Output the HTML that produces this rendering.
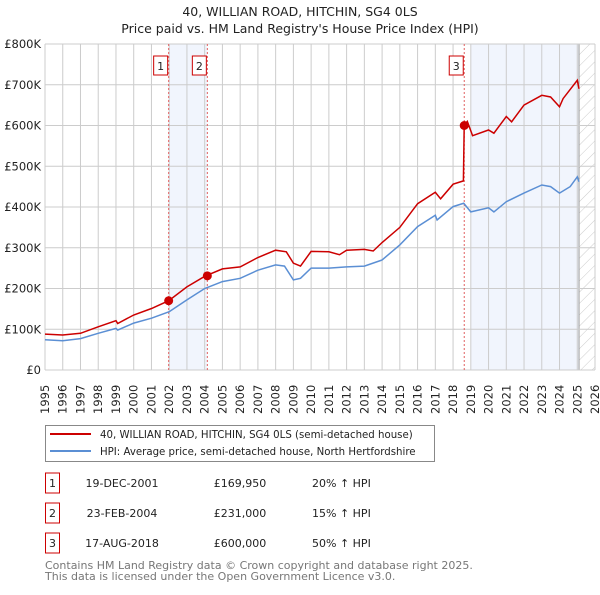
<!DOCTYPE html>
<html><head><meta charset="utf-8"><style>
body{margin:0;background:#fff;font-family:"Liberation Sans","DejaVu Sans",sans-serif;}
svg text{font-family:"DejaVu Sans","Liberation Sans",sans-serif;}
</style></head><body>
<svg id="chart" width="600" height="590" xmlns="http://www.w3.org/2000/svg">
<defs><pattern id="hatch" width="8" height="8" patternUnits="userSpaceOnUse" patternTransform="rotate(45)"><line x1="0" y1="0" x2="0" y2="8" stroke="#ccc" stroke-width="1"/></pattern></defs>
<text x="300" y="16" text-anchor="middle" font-size="12.5" fill="#222">40, WILLIAN ROAD, HITCHIN, SG4 0LS</text>
<text x="300" y="33" text-anchor="middle" font-size="12.5" fill="#222">Price paid vs. HM Land Registry's House Price Index (HPI)</text>
<g id="plot"></g>
<g>
<rect x="45.5" y="425.5" width="389" height="36" fill="#fff" stroke="#888"/>
<line x1="50" y1="434" x2="91" y2="434" stroke="#cc0000" stroke-width="2"/>
<text x="100" y="438" font-size="10.2" fill="#222">40, WILLIAN ROAD, HITCHIN, SG4 0LS (semi-detached house)</text>
<line x1="50" y1="451" x2="91" y2="451" stroke="#5b8fd4" stroke-width="2"/>
<text x="100" y="455" font-size="10.2" fill="#222">HPI: Average price, semi-detached house, North Hertfordshire</text>
</g>
<g id="table" font-size="11" fill="#222"></g>
<text x="45" y="569" font-size="11" fill="#777">Contains HM Land Registry data © Crown copyright and database right 2025.</text>
<text x="45" y="580" font-size="11" fill="#777">This data is licensed under the Open Government Licence v3.0.</text>
</svg>
<script>
const hpiYears=[1995,1996,1997,1998,1999,1999.1,2000,2001,2002,2003,2004,2005,2006,2007,2008,2008.5,2009,2009.4,2010,2011,2012,2013,2014,2015,2016,2017,2017.1,2018,2018.6,2019,2020,2020.3,2021,2022,2023,2023.5,2024,2024.6,2025,2025.1];
const hpiValues=[74,72,77,90,102,98,115,127,143,172,200,217,225,245,258,255,221,225,250,250,253,255,270,307,352,380,368,401,409,388,398,388,413,434,454,450,434,450,474,462];
const propYears=[1995,1996,1997,1998,1999,1999.1,2000,2001,2001.97,2003,2004,2005,2006,2007,2008,2008.6,2009,2009.4,2010,2011,2011.6,2012,2013,2013.5,2014,2015,2016,2017,2017.3,2018,2018.58,2018.63,2018.8,2019.1,2020,2020.3,2021,2021.3,2022,2023,2023.5,2024,2024.2,2025,2025.1];
const propValues=[88,86,90,106,121,114,135,151,170,204,230,248,253,276,294,290,262,255,291,290,283,294,296,292,313,350,408,436,420,456,464,600,610,575,589,581,622,609,650,674,670,646,666,711,690];
const saleLabels=["1","2","3"];
const saleDates=["19-DEC-2001","23-FEB-2004","17-AUG-2018"];
const saleYears=[2001.97,2004.15,2018.63];
const salePrices=[169.95,231,600];
const salePct=["20% \u2191 HPI","15% \u2191 HPI","50% \u2191 HPI"];
const yTicks=[0,100,200,300,400,500,600,700,800];
const yTickLabels=["£0","£100K","£200K","£300K","£400K","£500K","£600K","£700K","£800K"];
const xMin=1995,xMax=2026,yMax=800;
const L=45,R=595,T=44,B=370;
const X=v=>L+(v-xMin)/(xMax-xMin)*(R-L);
const Y=v=>B-v/yMax*(B-T);
const NS="http://www.w3.org/2000/svg";
const plot=document.getElementById('plot');
function mk(tag,attrs,parent){const e=document.createElementNS(NS,tag);for(const k in attrs)e.setAttribute(k,attrs[k]);(parent||plot).appendChild(e);return e;}
let s1=mk('rect',{x:X(saleYears[0]),y:T,width:X(saleYears[1])-X(saleYears[0]),height:B-T,fill:'#f1f5fd'});


let s3=mk('rect',{x:X(2019),y:T,width:X(2025.1)-X(2019),height:B-T,fill:'#f1f5fd'});


let hz=mk('rect',{x:X(2025.1),y:T,width:R-X(2025.1),height:B-T,fill:'url(#hatch)'});


for(let yr=xMin;yr<=xMax;yr++){
 mk('line',{x1:X(yr),y1:T,x2:X(yr),y2:B,stroke:'#ccc','stroke-width':1});
 let t=mk('text',{x:0,y:0,transform:`translate(${X(yr)+4},${B+44}) rotate(-90)`,'font-size':11.5,fill:'#222'});
 t.textContent=yr;
 
 
}
mk('line',{x1:X(2025.1),y1:T,x2:X(2025.1),y2:B,stroke:'#999','stroke-width':1});
yTicks.forEach((v,i)=>{
 mk('line',{x1:L,y1:Y(v),x2:R,y2:Y(v),stroke:'#ccc','stroke-width':1});
 let t=mk('text',{x:L-4,y:Y(v)+4,'text-anchor':'end','font-size':11.5,fill:'#222'});
 t.textContent=yTickLabels[i];
 
 
});
saleYears.forEach((yr,i)=>{
 mk('line',{x1:X(yr),y1:T,x2:X(yr),y2:B,stroke:'#e06060','stroke-width':1,'stroke-dasharray':'2,2'});
 let g=mk('g',{});
 
 
 mk('rect',{x:X(yr)-15,y:56,width:14,height:19,fill:'#fff',stroke:'#cc0000'},g);
 let t=mk('text',{x:X(yr)-8,y:70,'text-anchor':'middle','font-size':11,fill:'#222'},g);
 t.textContent=saleLabels[i];
});
function path(xs,ys){return xs.map((x,i)=>(i?'L':'M')+X(x).toFixed(1)+','+Y(ys[i]).toFixed(1)).join('');}
let hl=mk('path',{d:path(hpiYears,hpiValues),fill:'none',stroke:'#5b8fd4','stroke-width':1.5});


let pl=mk('path',{d:path(propYears,propValues),fill:'none',stroke:'#cc0000','stroke-width':1.5});


saleYears.forEach((yr,i)=>{
 let c=mk('circle',{cx:X(yr),cy:Y(salePrices[i]),r:4.5,fill:'#cc0000'});
 
 
});
const tb=document.getElementById('table');
saleLabels.forEach((lab,i)=>{
 const y=483+i*30;
 let r=mk('g',{},tb);
 
 
 mk('rect',{x:45.5,y:y-10,width:14,height:20,fill:'#fff',stroke:'#cc0000'},r);
 let a=mk('text',{x:52.5,y:y+4,'text-anchor':'middle'},r);a.textContent=lab;
 let b=mk('text',{x:122,y:y+4,'text-anchor':'middle'},r);b.textContent=saleDates[i];
 let c=mk('text',{x:240,y:y+4,'text-anchor':'middle'},r);c.textContent='£'+Math.round(salePrices[i]*1000).toLocaleString('en-GB');
 let d=mk('text',{x:312,y:y+4},r);d.textContent=salePct[i];
});
</script>
</body></html>
